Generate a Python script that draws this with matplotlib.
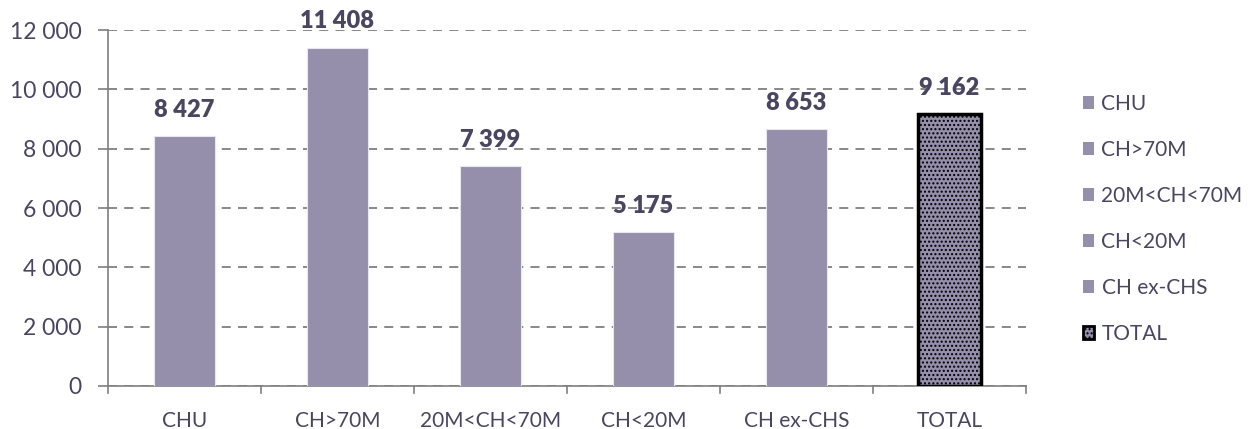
import matplotlib.pyplot as plt
from matplotlib.patches import Patch

categories = ["CHU", "CH>70M", "20M<CH<70M", "CH<20M", "CH ex-CHS", "TOTAL"]
values = [8427, 11408, 7399, 5175, 8653, 9162]
y_ticks = [0, 2000, 4000, 6000, 8000, 10000, 12000]

bar_color = "#968FAC"
text_color = "#4A4560"
grid_color = "#7F7F7F"

plt.rcParams["font.family"] = ["Lato", "DejaVu Sans"]
plt.rcParams["hatch.color"] = "#2B2B2B"


def fmt(v):
    # separateur de milliers avec espace
    return f"{v:,}".replace(",", " ")


fig = plt.figure(figsize=(12.57, 4.29), dpi=100)
ax = fig.add_axes([108 / 1257, 43 / 429, (1026 - 108) / 1257, (386 - 30) / 429])

x = list(range(len(categories)))
for i, (cat, val) in enumerate(zip(categories, values)):
    if cat == "TOTAL":
        ax.bar(i, val, width=0.41, color=bar_color, edgecolor="black",
               linewidth=2.5, hatch="....", zorder=3)
    else:
        ax.bar(i, val, width=0.40, color=bar_color, edgecolor="#E8E6EE",
               linewidth=0.8, zorder=3)
    ax.annotate(fmt(val), (i, val), xytext=(0, 11), textcoords="offset points",
                ha="center", va="bottom", fontsize=17, fontweight="heavy",
                color=text_color, zorder=4)

ax.set_xlim(-0.5, len(categories) - 0.5)
ax.set_ylim(0, 12000)
ax.set_yticks(y_ticks)
ax.set_yticklabels([fmt(t) for t in y_ticks], fontsize=16.5, color=text_color)
ax.set_xticks(x)
ax.set_xticklabels(categories, fontsize=15, color=text_color)
ax.tick_params(axis="x", length=0, pad=18)
ax.tick_params(axis="y", length=7, width=1.2, color=grid_color, pad=12)

# petits traits entre les categories
for b in range(len(categories) + 1):
    ax.plot([b - 0.5, b - 0.5], [0, -220], color=grid_color, lw=1.2,
            clip_on=False, zorder=2)

ax.grid(axis="y", linestyle=(0, (5, 4)), color=grid_color, lw=1.3, zorder=1)
for s in ["top", "right"]:
    ax.spines[s].set_visible(False)
ax.spines["left"].set_color(grid_color)
ax.spines["bottom"].set_color(grid_color)
ax.spines["left"].set_linewidth(1.2)
ax.spines["bottom"].set_linewidth(1.2)

handles = [Patch(facecolor=bar_color, edgecolor="none", label=c) for c in categories[:-1]]
handles.append(Patch(facecolor=bar_color, edgecolor="black", hatch="....",
                     linewidth=2, label="TOTAL"))
leg = fig.legend(handles=handles, loc="upper left", bbox_to_anchor=(1064 / 1257, 1 - 75 / 429),
                 frameon=False, fontsize=15, labelspacing=1.25, handlelength=0.55,
                 handleheight=0.55, handletextpad=0.35, labelcolor=text_color)

fig.savefig("out.png", dpi=100)
